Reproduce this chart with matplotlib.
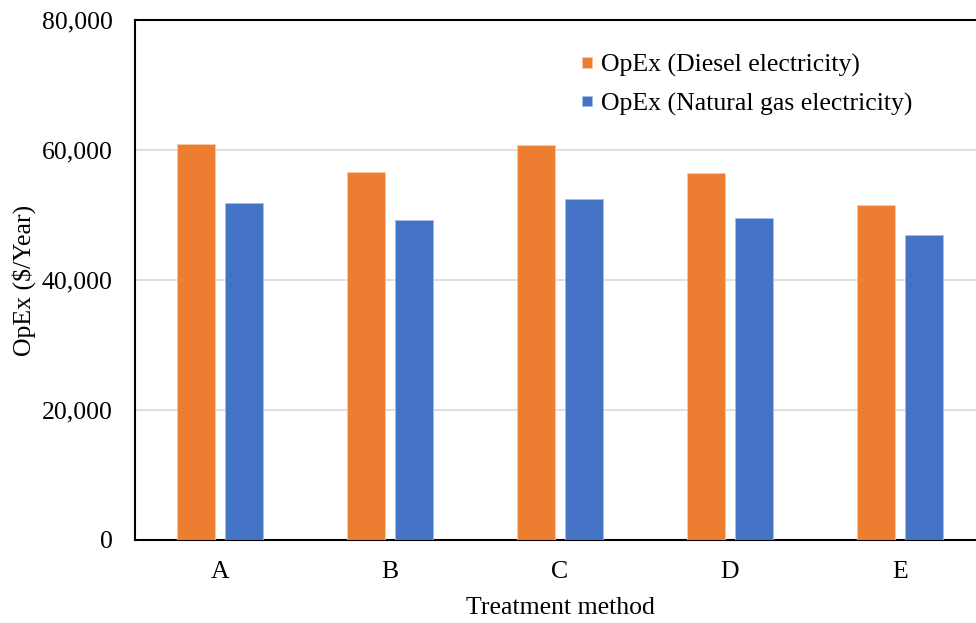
import matplotlib
matplotlib.use("Agg")
import matplotlib.pyplot as plt
import numpy as np
from matplotlib.ticker import FuncFormatter

methods = ["A", "B", "C", "D", "E"]
opex_diesel = [60900, 56600, 60700, 56500, 51500]
opex_gas = [51900, 49300, 52500, 49600, 46900]

orange = "#ED7D31"
blue = "#4472C4"

plt.rcParams["font.family"] = ["Liberation Serif", "DejaVu Serif"]
fs = 18.5

fig = plt.figure(figsize=(9.76, 6.23), dpi=100)
ax = fig.add_axes([135 / 976, 83 / 623, 850 / 976, 520 / 623])

x = np.arange(len(methods))
w = 0.2235
off = 0.141
ax.bar(x - off, opex_diesel, w, color=orange, edgecolor="#F7C9A8", linewidth=0.6,
       label="OpEx (Diesel electricity)", zorder=3)
ax.bar(x + off, opex_gas, w, color=blue, edgecolor="#A9BDE5", linewidth=0.6,
       label="OpEx (Natural gas electricity)", zorder=3)

ax.set_xlim(-0.5, 4.5)
ax.set_ylim(0, 80000)
ax.set_xticks(x)
ax.set_xticklabels(methods)
ax.set_yticks(range(0, 80001, 20000))
ax.yaxis.set_major_formatter(FuncFormatter(lambda v, p: f"{int(v):,}"))
ax.tick_params(axis="both", length=0, labelsize=fs)
ax.tick_params(axis="y", pad=16)
ax.tick_params(axis="x", pad=15)

ax.yaxis.grid(True, color="#D9D9D9", linewidth=1.2, zorder=0)
for s in ax.spines.values():
    s.set_color("black")
    s.set_linewidth(1.5)

ax.set_xlabel("Treatment method", fontsize=fs, labelpad=10.5)
ax.set_ylabel("OpEx ($/Year)", fontsize=fs, labelpad=4.5)

# square legend markers like the Excel original
ax.legend(loc="upper left", bbox_to_anchor=(559 / 976, 1 - 31 / 623),
          bbox_transform=fig.transFigure, frameon=False, fontsize=fs,
          handlelength=0.4, handleheight=0.24, handletextpad=0.35,
          labelspacing=0.6)

fig.savefig("out.png", dpi=100)
